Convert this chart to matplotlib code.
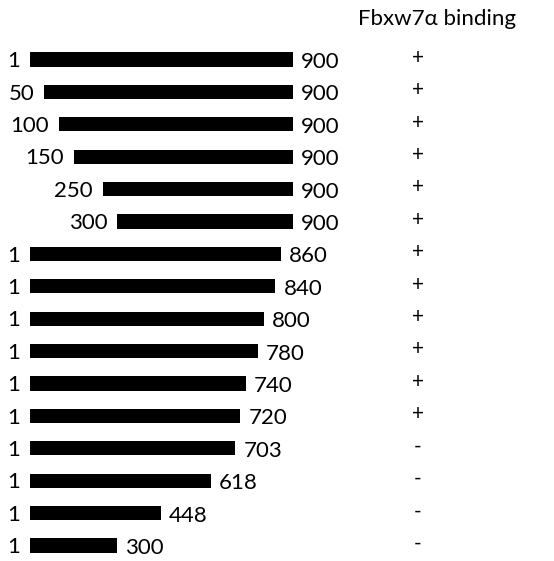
import matplotlib
matplotlib.use('Agg')
import matplotlib.pyplot as plt

plt.rcParams['font.family'] = ['Lato', 'DejaVu Sans']

# fragment start / end (amino acids) and binding result
starts = [1, 50, 100, 150, 250, 300, 1, 1, 1, 1, 1, 1, 1, 1, 1, 1]
ends = [900, 900, 900, 900, 900, 900, 860, 840, 800, 780, 740, 720, 703, 618, 448, 300]
binding = ['+', '+', '+', '+', '+', '+', '+', '+', '+', '+', '+', '+', '-', '-', '-', '-']

W, H = 554, 561
fig = plt.figure(figsize=(W / 100, H / 100), dpi=100)
ax = fig.add_axes([0, 0, 1, 1])

# pixel layout: aa 1 at x=30px, aa 900 at x=293px; rows every 32.4px from y=59.5px
px_per_aa = (293 - 30) / 899
row_px = 32.4
ax.set_xlim(1 - 30 / px_per_aa, 1 + (W - 30) / px_per_aa)
ax.set_ylim((H - 59.5) / row_px, -59.5 / row_px)
ax.axis('off')

rows = list(range(len(starts)))
widths = [e - s for s, e in zip(starts, ends)]
ax.barh(rows, widths, left=starts, height=0.44, color='black')

gap_start = 10 / px_per_aa
gap_end = 8 / px_per_aa
for i in rows:
    ax.text(starts[i] - gap_start, i + 0.05, str(starts[i]), ha='right', va='center', fontsize=16)
    ax.text(ends[i] + gap_end, i + 0.08, str(ends[i]), ha='left', va='center', fontsize=16)
    ax.text(418 / W, i - 0.05, binding[i], ha='center', va='center', fontsize=15,
            transform=ax.get_yaxis_transform())

ax.text(437 / W, (19 - 59.5) / row_px, 'Fbxw7\u03b1 binding', ha='center', va='center',
        fontsize=16, transform=ax.get_yaxis_transform())

fig.savefig('out.png', dpi=100)
